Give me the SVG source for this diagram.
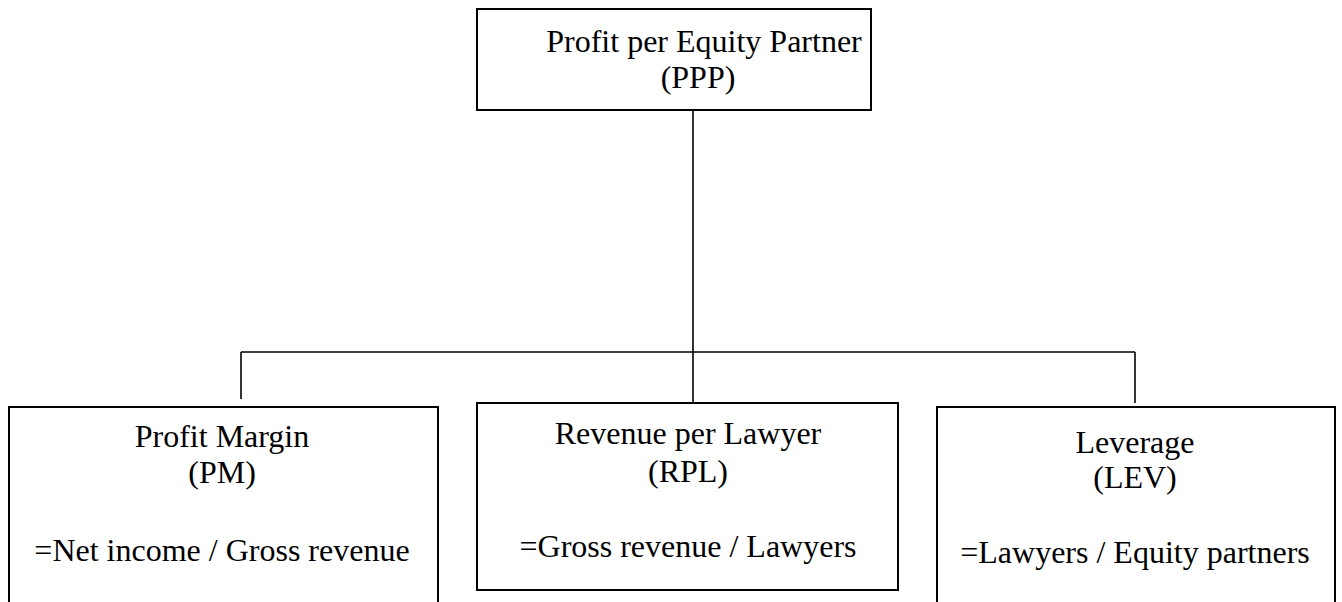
<svg xmlns="http://www.w3.org/2000/svg" width="1342" height="602" viewBox="0 0 1342 602">
<style>
.box{fill:#fff;stroke:#000;stroke-width:2}
.conn{fill:none;stroke:#000;stroke-width:1.6}
text{font-family:"Liberation Serif","Times New Roman",serif;font-size:32px;fill:#000;text-anchor:middle}
</style>
<rect width="1342" height="602" fill="#fff"/>
<g id="connectors">
<line class="conn" x1="693" y1="110" x2="693" y2="352"/>
<line class="conn" x1="241" y1="352" x2="1135" y2="352"/>
<line class="conn" x1="241" y1="352" x2="241" y2="399"/>
<line class="conn" x1="693" y1="352" x2="693" y2="403"/>
<line class="conn" x1="1135" y1="352" x2="1135" y2="403"/>
</g>
<g id="ppp">
<rect class="box" x="477" y="9" width="394" height="101"/>
<text x="704" y="52">Profit per Equity Partner</text>
<text x="698" y="88">(PPP)</text>
</g>
<g id="pm">
<rect class="box" x="9" y="407" width="429" height="210"/>
<text x="222" y="447">Profit Margin</text>
<text x="222" y="483">(PM)</text>
<text x="222" y="561">=Net income / Gross revenue</text>
</g>
<g id="rpl">
<rect class="box" x="477" y="403" width="421" height="187"/>
<text x="688" y="444">Revenue per Lawyer</text>
<text x="688" y="482">(RPL)</text>
<text x="688" y="557">=Gross revenue / Lawyers</text>
</g>
<g id="lev">
<rect class="box" x="937" y="407" width="398" height="210"/>
<text x="1135" y="453">Leverage</text>
<text x="1135" y="488">(LEV)</text>
<text x="1135" y="563">=Lawyers / Equity partners</text>
</g>
</svg>
